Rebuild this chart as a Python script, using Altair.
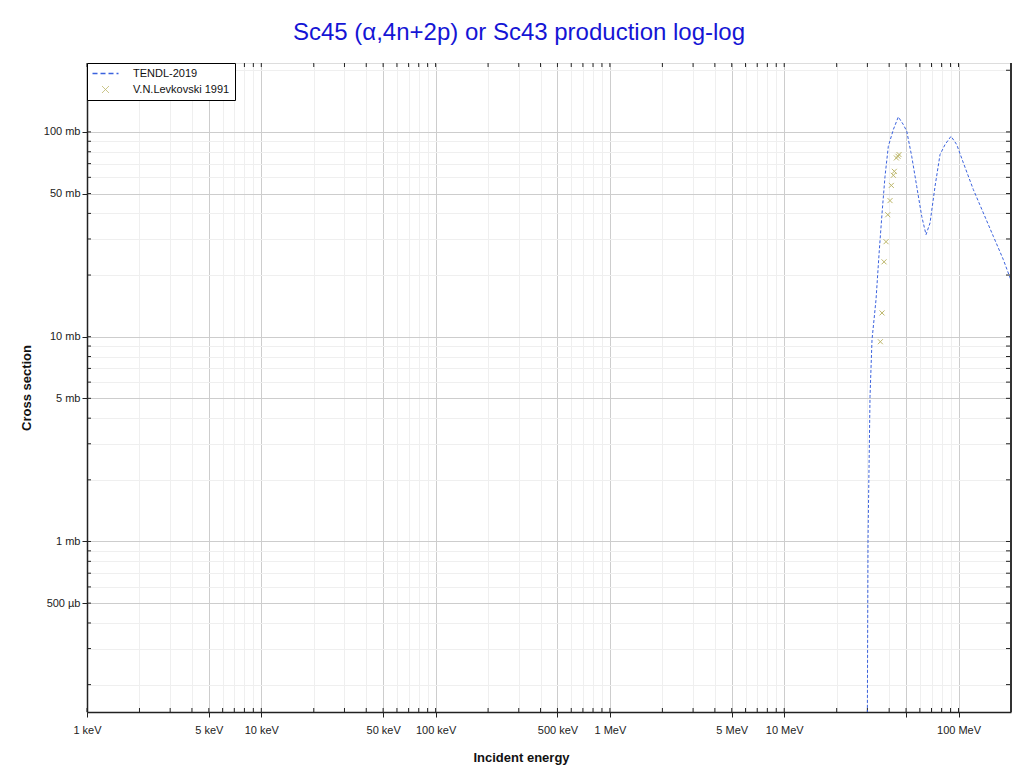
import altair as alt
import pandas as pd

# ---------------- data ----------------
title_text = "Sc45 (α,4n+2p) or Sc43 production log-log"
series_names = ["TENDL-2019", "V.N.Levkovski 1991"]
series_colors = ["#3b62de", "#bdb76b"]

# TENDL-2019 evaluated curve (energy in MeV, cross section in mb)
tendl_energy_mev = [29.85, 30.25, 31.06, 31.89, 33.63, 35.13, 36.54, 37.87, 39.56,
                    42.26, 45.14, 48.23, 50.45, 53.88, 57.57, 61.50, 65.09, 68.63,
                    73.32, 78.32, 83.67, 90.57, 97.65, 106.6, 121.6, 138.8, 158.4,
                    180.7, 199.3]
tendl_xs_mb = [0.05, 1.02, 5.1, 9.67, 15.2, 26.6, 41.7, 60.7, 85.1,
               102.6, 118.4, 108.6, 100.7, 76.0, 54.2, 38.7, 31.5, 35.9,
               54.2, 77.5, 86.7, 95.2, 86.7, 70.6, 52.3, 40.2, 30.9,
               23.8, 19.0]

# V.N.Levkovski 1991 measurements
lev_energy_mev = [35.60, 36.40, 37.38, 38.38, 39.26, 40.46, 41.17, 42.27, 42.83,
                  43.98, 44.97, 45.57]
lev_xs_mb = [9.45, 13.06, 23.2, 29.1, 39.4, 46.2, 54.8, 61.4, 64.2,
             74.6, 76.0, 77.5]

# axis tick values
x_tick_values = [0.001, 0.002, 0.003, 0.004, 0.005, 0.006, 0.007, 0.008, 0.009,
                 0.01, 0.02, 0.03, 0.04, 0.05, 0.06, 0.07, 0.08, 0.09,
                 0.1, 0.2, 0.3, 0.4, 0.5, 0.6, 0.7, 0.8, 0.9,
                 1, 2, 3, 4, 5, 6, 7, 8, 9,
                 10, 20, 30, 40, 50, 60, 70, 80, 90,
                 100, 200]
y_tick_values = [0.2, 0.3, 0.4, 0.5, 0.6, 0.7, 0.8, 0.9,
                 1, 2, 3, 4, 5, 6, 7, 8, 9,
                 10, 20, 30, 40, 50, 60, 70, 80, 90,
                 100, 200]
x_domain = [0.001, 200]
y_domain = [0.147, 217]

# ---------------- layout ----------------
W, H = 924, 649
FONT = "Liberation Sans"

M = "(datum.value / pow(10, floor(log(datum.value) / LN10 + 1e-9)))"
MAJ = f"(abs({M} - 1) < 0.01 || abs({M} - 5) < 0.01)"

grid_cond = {"condition": {"test": MAJ, "value": "#cdcdcd"}, "value": "#efefef"}
tick_cond = {"condition": {"test": MAJ, "value": 1}, "value": 0}

x_label_expr = (f"(datum.value > 49.9 && datum.value < 50.1) ? '' : ({MAJ} ? "
                f"(datum.value < 0.9999 ? format(datum.value * 1000, '.0f') + ' keV' "
                f": format(datum.value, '.0f') + ' MeV') : '')")
y_label_expr = (f"{MAJ} ? (datum.value >= 0.9999 ? format(datum.value, '.0f') + ' mb' "
                f": format(datum.value * 1000, '.0f') + ' µb') : ''")

xaxis = alt.Axis(values=x_tick_values, labelExpr=x_label_expr,
                 title="Incident energy", titleFont=FONT, titleFontSize=13,
                 titleFontWeight="bold", titleColor="#111",
                 titleX=434, titleY=45, titleAlign="center", titleBaseline="middle",
                 labelFont=FONT, labelFontSize=11, labelColor="#222",
                 labelPadding=7, labelFlush=False, labelOverlap=False,
                 tickSize=5, tickColor="#222", tickOpacity=tick_cond,
                 grid=True, gridColor=grid_cond,
                 domainColor="#222", domainWidth=1.5)
yaxis = alt.Axis(values=y_tick_values, labelExpr=y_label_expr,
                 title="Cross section", titleFont=FONT, titleFontSize=13,
                 titleFontWeight="bold", titleColor="#111",
                 titleX=-61, titleY=H / 2, titleAlign="center", titleBaseline="middle",
                 labelFont=FONT, labelFontSize=11, labelColor="#222",
                 labelPadding=2, labelOverlap=False, labelFlush=False,
                 tickSize=5, tickColor="#222", tickOpacity=tick_cond,
                 grid=True, gridColor=grid_cond,
                 domainColor="#222", domainWidth=1.5)

xscale = alt.Scale(type="log", domain=x_domain, nice=False)
yscale = alt.Scale(type="log", domain=y_domain, nice=False)

IS_T = "datum.value === 'TENDL-2019'"
legend = alt.Legend(
    title=None, orient="none", legendX=0, legendY=0,
    strokeColor="black", fillColor="white", padding=5, cornerRadius=0,
    labelFont=FONT, labelFontSize=11, labelColor="#111",
    symbolSize=100, symbolOffset=8, labelOffset=22, rowPadding=4,
    symbolType=alt.ExprRef(f"{IS_T} ? 'M-2.6,0L2.6,0' : 'M-0.7,-0.7L0.7,0.7M-0.7,0.7L0.7,-0.7'"),
    symbolDash=alt.ExprRef(f"{IS_T} ? [5,3] : [1,0]"),
    symbolStrokeWidth=alt.ExprRef(f"{IS_T} ? 1.6 : 1"),
    symbolFillColor="transparent",
)
color = alt.Color("series:N", scale=alt.Scale(domain=series_names, range=series_colors),
                  legend=legend)

tendl_df = pd.DataFrame({"E": tendl_energy_mev, "S": tendl_xs_mb, "series": series_names[0]})
lev_df = pd.DataFrame({"E": lev_energy_mev, "S": lev_xs_mb, "series": series_names[1]})
xt_df = pd.DataFrame({"E": x_tick_values})
yt_df = pd.DataFrame({"S": y_tick_values})


def X(f):
    return alt.X(f"{f}:Q", scale=xscale, axis=xaxis)


def Y(f):
    return alt.Y(f"{f}:Q", scale=yscale, axis=yaxis)


line = alt.Chart(tendl_df).mark_line(strokeDash=[3, 2], strokeWidth=1, clip=True).encode(
    x=X("E"), y=Y("S"), color=color)
points = alt.Chart(lev_df).mark_point(
    shape="M-1,-1L1,1M-1,1L1,-1", size=25, strokeWidth=1, filled=False, opacity=1, clip=True
).encode(x=X("E"), y=Y("S"), color=color)

tick_col = "#222"
xt_bottom = alt.Chart(xt_df).mark_rule(color=tick_col, strokeWidth=1).encode(
    x=X("E"), y=alt.value(H), y2=alt.value(H - 4))
xt_top = alt.Chart(xt_df).mark_rule(color=tick_col, strokeWidth=1).encode(
    x=X("E"), y=alt.value(0), y2=alt.value(4))
yt_left = alt.Chart(yt_df).mark_rule(color=tick_col, strokeWidth=1).encode(
    y=Y("S"), x=alt.value(0), x2=alt.value(4))
yt_right = alt.Chart(yt_df).mark_rule(color=tick_col, strokeWidth=1).encode(
    y=Y("S"), x=alt.value(W - 5), x2=alt.value(W))
right_border = alt.Chart(pd.DataFrame({"a": [0]})).mark_rule(color="#333", strokeWidth=2).encode(
    x=alt.value(W), y=alt.value(0), y2=alt.value(H))

chart = alt.layer(xt_bottom, xt_top, yt_left, yt_right, line, points, right_border).properties(
    width=W, height=H,
    title=alt.TitleParams(title_text, font=FONT, fontSize=24, fontWeight="normal",
                          color="#1515d5", anchor="middle", baseline="alphabetic",
                          offset=22, dx=-30, dy=24),
    autosize=alt.AutoSizeParams(type="none"),
    padding={"left": 79, "top": 55, "right": 1, "bottom": 53},
).configure_view(stroke="#222", strokeWidth=1).configure(background="white")

chart.save("out.html", embed_options={"renderer": "svg", "actions": False})
